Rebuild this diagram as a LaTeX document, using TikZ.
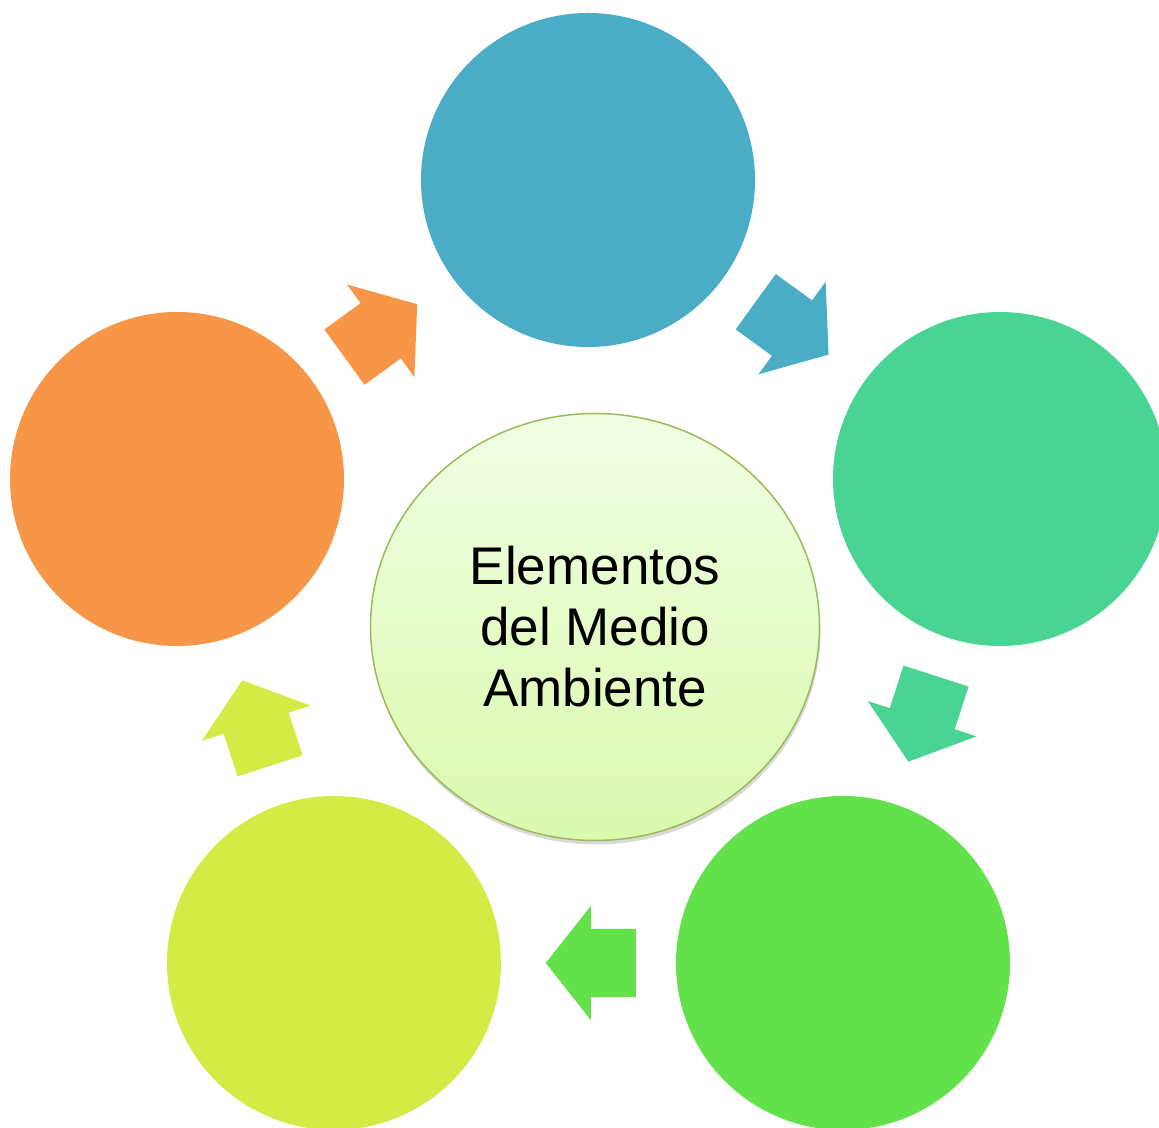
\documentclass[tikz,border=0pt]{standalone}
\usepackage{fontspec}
\setmainfont{Liberation Sans}
\usetikzlibrary{shapes.geometric, shapes.arrows, shadows}
\definecolor{azul}{HTML}{4BACC6}
\definecolor{turquesa}{HTML}{4AD494}
\definecolor{verde}{HTML}{62E14B}
\definecolor{lima}{HTML}{D4EB46}
\definecolor{naranja}{HTML}{F79646}
\definecolor{claroA}{HTML}{F2FDE4}
\definecolor{claroB}{HTML}{DAFAAE}
\definecolor{borde}{HTML}{9BBB59}
\tikzset{
	circulo/.style={circle, minimum size=334pt, inner sep=0pt, outer sep=0pt},
	flecha/.style={single arrow, minimum height=90pt, inner xsep=0pt, inner ysep=34pt, single arrow head extend=23pt,
		single arrow tip angle=103.4, outer sep=0pt, sloped, allow upside down, anchor=tail, pos=0.23},
}
\begin{document}
\begin{tikzpicture}[x=1pt, y=1pt]
	\useasboundingbox (0,0) rectangle (1159,1127);
	\clip (0,0) rectangle (1159,1127);
	\node[circulo, fill=azul] (azul) at (588,947) {};
	\node[circulo, fill=turquesa] (turquesa) at (1000,648) {};
	\node[circulo, fill=verde] (verde) at (843,164) {};
	\node[circulo, fill=lima] (lima) at (334,164) {};
	\node[circulo, fill=naranja] (naranja) at (177,648) {};
	\node[ellipse, draw=borde, line width=1.5pt, top color=claroA, bottom color=claroB,
		minimum width=449pt, minimum height=427pt,
		drop shadow={shadow xshift=1pt, shadow yshift=-4pt, opacity=0.3},
		align=center, font=\fontsize{53}{61}\selectfont] (centro) at (595,500) {Elementos\\del Medio\\Ambiente};
	\path (azul) -- node[flecha, fill=azul] (f1) {} (turquesa);
	\path (turquesa) -- node[flecha, fill=turquesa] (f2) {} (verde);
	\path (verde) -- node[flecha, fill=verde] (f3) {} (lima);
	\path (lima) -- node[flecha, fill=lima] (f4) {} (naranja);
	\path (naranja) -- node[flecha, fill=naranja] (f5) {} (azul);
\end{tikzpicture}
\end{document}
